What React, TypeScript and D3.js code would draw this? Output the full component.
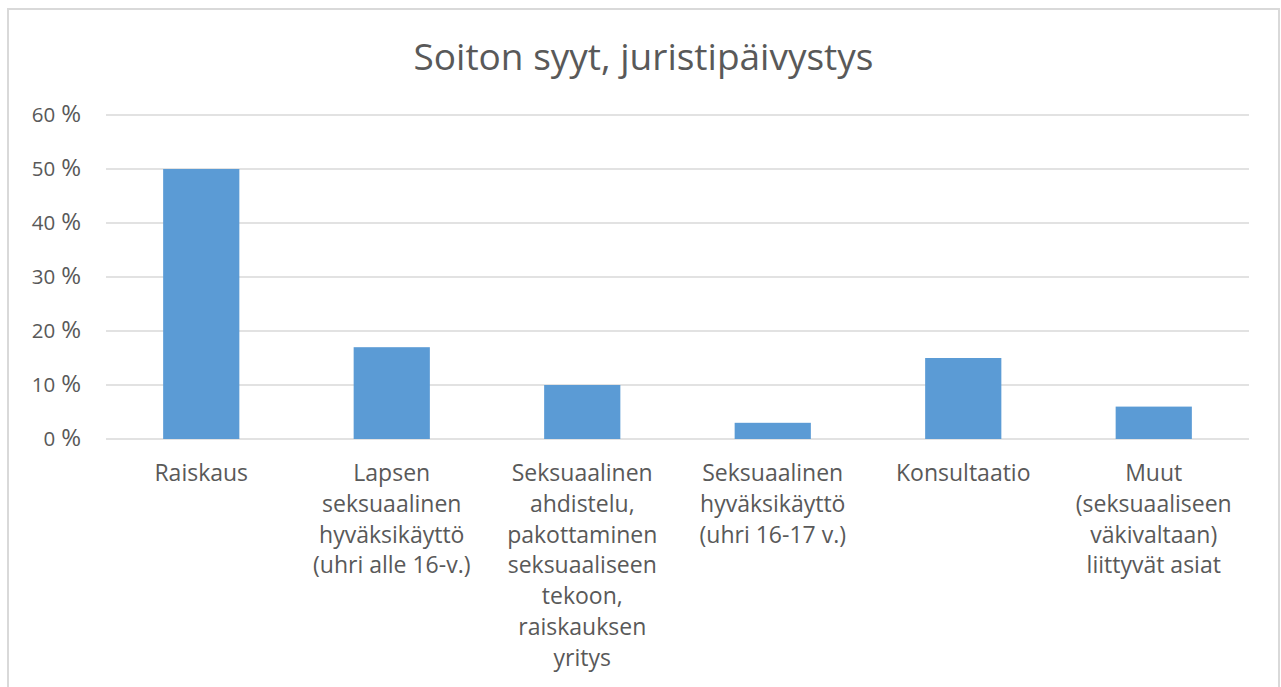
import React from "react";
import * as d3 from "d3";

const categories: string[][] = [
  ["Raiskaus"],
  ["Lapsen", "seksuaalinen", "hyväksikäyttö", "(uhri alle 16-v.)"],
  ["Seksuaalinen", "ahdistelu,", "pakottaminen", "seksuaaliseen", "tekoon,", "raiskauksen", "yritys"],
  ["Seksuaalinen", "hyväksikäyttö", "(uhri 16-17 v.)"],
  ["Konsultaatio"],
  ["Muut", "(seksuaaliseen", "väkivaltaan)", "liittyvät asiat"],
];
const values: number[] = [0.5, 0.17, 0.1, 0.03, 0.15, 0.06];
const yTicks: number[] = [0, 0.1, 0.2, 0.3, 0.4, 0.5, 0.6];
const title = "Soiton syyt, juristipäivystys";

const W = 1281;
const H = 687;
const plot = { left: 106, right: 1249, top: 115, bottom: 439 };
const FONT = "'Open Sans', 'DejaVu Sans', sans-serif";
const TEXT = "#595959";

export default function App() {
  const x = d3
    .scaleBand<number>()
    .domain(categories.map((_, i) => i))
    .range([plot.left, plot.right])
    .paddingInner(0.6)
    .paddingOuter(0.3);
  const y = d3.scaleLinear().domain([0, 0.6]).range([plot.bottom, plot.top]);
  const band = (plot.right - plot.left) / categories.length;

  return (
    <svg
      width={W}
      height={H}
      style={{ position: "fixed", left: 0, top: 0, background: "#fff" }}
    >
      <rect x={0} y={0} width={W} height={H} fill="#fff" />
      <rect x={8} y={9} width={1271} height={720} fill="#fff" stroke="#d9d9d9" strokeWidth={2} />
      <text
        x={643.5}
        y={70}
        textAnchor="middle"
        fontFamily={FONT}
        fontSize={37}
        fill={TEXT}
      >
        {title}
      </text>
      {yTicks.map((t) => (
        <g key={t}>
          <line
            x1={plot.left}
            x2={plot.right}
            y1={y(t)}
            y2={y(t)}
            stroke="#d9d9d9"
            strokeWidth={1.3}
          />
          <text
            x={81}
            y={y(t) + 7}
            textAnchor="end"
            fontFamily={FONT}
            fontSize={20.5}
            fill={TEXT}
          >
            {Math.round(t * 100)}
            <tspan dx={6} fontSize={24}>%</tspan>
          </text>
        </g>
      ))}
      {values.map((v, i) => (
        <rect
          key={i}
          x={x(i)}
          y={y(v)}
          width={x.bandwidth()}
          height={y(0) - y(v)}
          fill="#5b9bd5"
        />
      ))}
      {categories.map((lines, i) => {
        const cx = plot.left + band * (i + 0.5);
        return (
          <text
            key={i}
            textAnchor="middle"
            fontFamily={FONT}
            fontSize={23}
            fill={TEXT}
          >
            {lines.map((l, j) => (
              <tspan key={j} x={cx} y={481 + j * 30.8}>
                {l}
              </tspan>
            ))}
          </text>
        );
      })}
    </svg>
  );
}
